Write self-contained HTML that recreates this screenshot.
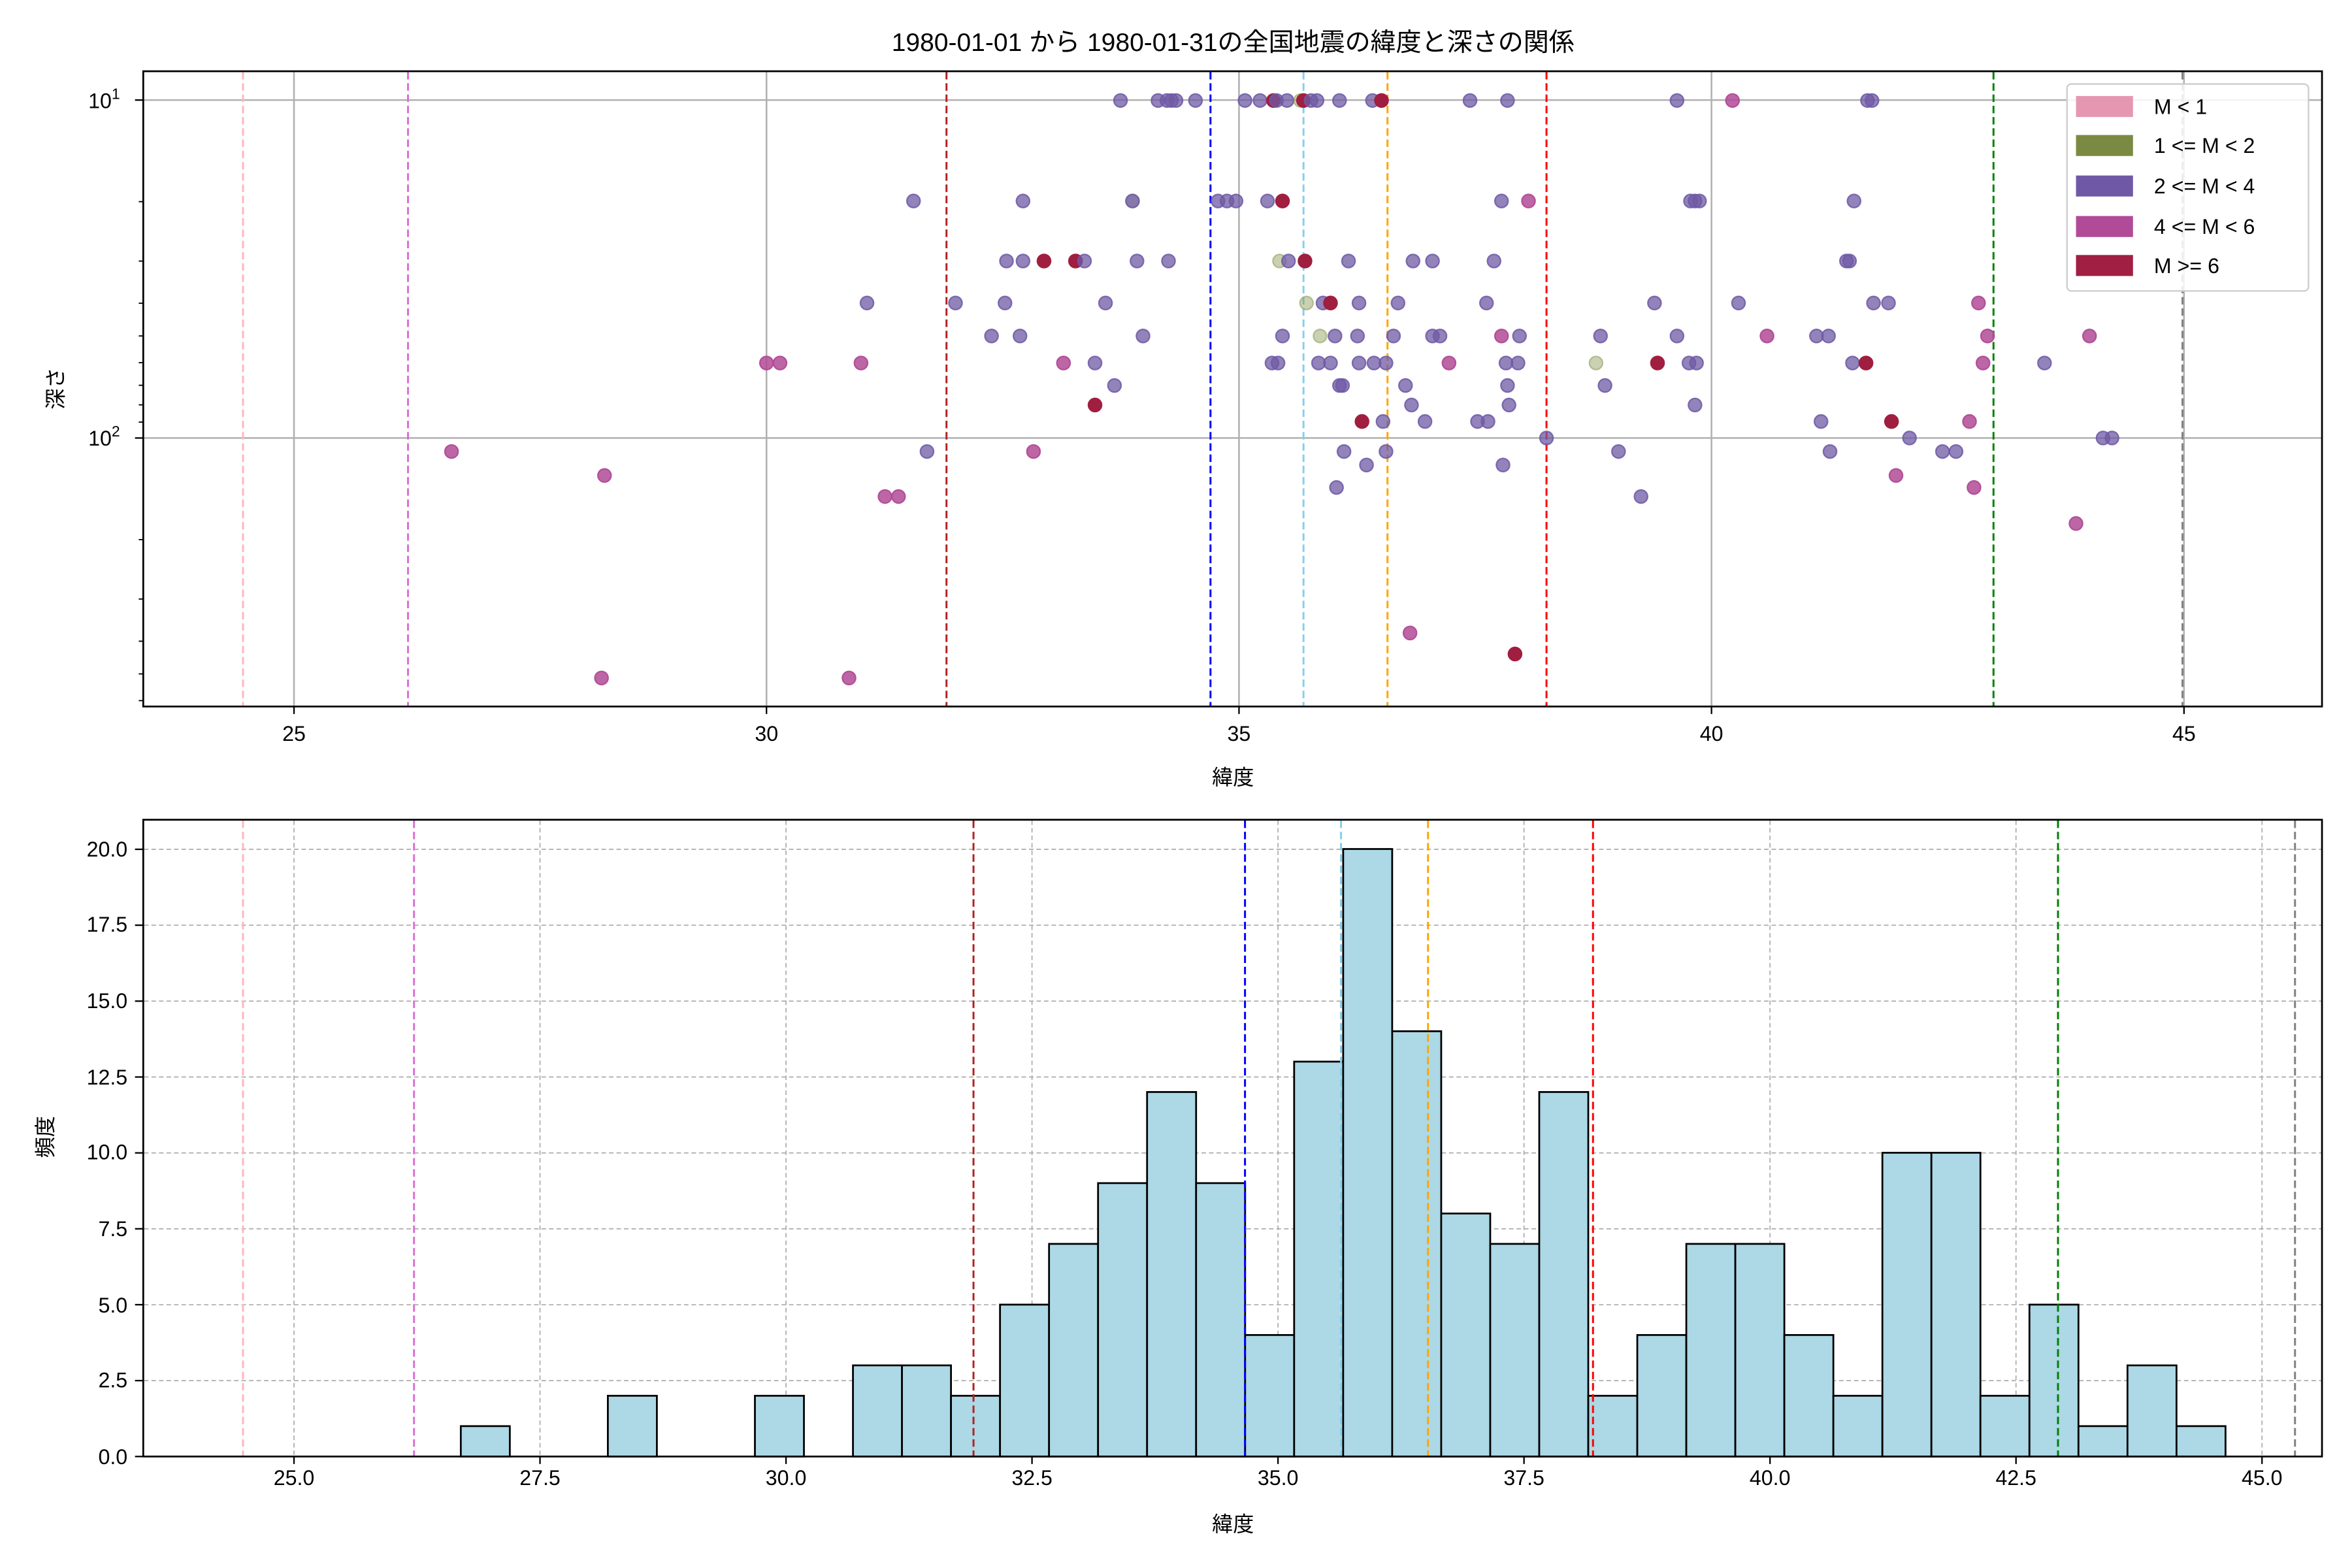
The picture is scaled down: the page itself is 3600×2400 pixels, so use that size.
<!DOCTYPE html>
<html><head><meta charset="utf-8"><style>
html,body{margin:0;padding:0;background:#fff}
svg{display:block}
text{font-family:"Liberation Sans","Noto Sans CJK JP",sans-serif;fill:#000}
</style></head><body>
<svg id="s" width="3600" height="2400" viewBox="0 0 1568 1045.33" preserveAspectRatio="none" xmlns="http://www.w3.org/2000/svg">
<rect width="1568" height="1046" fill="#fff"/>
<text x="822" y="34" font-size="17" text-anchor="middle">1980-01-01 から 1980-01-31の全国地震の緯度と深さの関係</text>
<g stroke="#b0b0b0" stroke-width="1.1">
<line x1="196" y1="47.5" x2="196" y2="471"/><line x1="511" y1="47.5" x2="511" y2="471"/><line x1="826" y1="47.5" x2="826" y2="471"/><line x1="1141" y1="47.5" x2="1141" y2="471"/><line x1="1456" y1="47.5" x2="1456" y2="471"/>
<line x1="95.5" y1="66.7" x2="1548" y2="66.7"/><line x1="95.5" y1="292" x2="1548" y2="292"/>
</g>
<g id="topv" stroke-width="1.3" stroke-dasharray="5,2.5"></g>
<g id="pts"></g>
<rect x="95.5" y="47.5" width="1452.5" height="423.5" fill="none" stroke="#000" stroke-width="1.2"/>
<g stroke="#000" stroke-width="1">
<line x1="196" y1="471" x2="196" y2="476"/><line x1="511" y1="471" x2="511" y2="476"/><line x1="826" y1="471" x2="826" y2="476"/><line x1="1141" y1="471" x2="1141" y2="476"/><line x1="1456" y1="471" x2="1456" y2="476"/>
<line x1="90" y1="66.7" x2="95.5" y2="66.7"/><line x1="90" y1="292" x2="95.5" y2="292"/>
</g>
<g id="minor" stroke="#000" stroke-width="0.8"></g>
<g font-size="14" text-anchor="middle">
<text x="196" y="494">25</text><text x="511" y="494">30</text><text x="826" y="494">35</text><text x="1141" y="494">40</text><text x="1456" y="494">45</text>
<text x="822" y="523">緯度</text>
</g>
<g font-size="14" text-anchor="end">
<text x="80" y="72">10<tspan font-size="10" dy="-6">1</tspan></text>
<text x="80" y="297">10<tspan font-size="10" dy="-6">2</tspan></text>
</g>
<text x="0" y="0" font-size="14" text-anchor="middle" transform="translate(42,259) rotate(-90)">深さ</text>
<rect x="1378" y="56" width="161" height="138" rx="3" fill="#fff" fill-opacity="0.85" stroke="#ccc" stroke-width="1"/>
<rect x="1384" y="64" width="38" height="14" fill="#e597b2"/>
<rect x="1384" y="90" width="38" height="14" fill="#7b8a42"/>
<rect x="1384" y="117" width="38" height="14" fill="#6f59a4"/>
<rect x="1384" y="144" width="38" height="14" fill="#b14b97"/>
<rect x="1384" y="170" width="38" height="14" fill="#a01f42"/>
<g font-size="14">
<text x="1436" y="76">M &lt; 1</text>
<text x="1436" y="102">1 &lt;= M &lt; 2</text>
<text x="1436" y="129">2 &lt;= M &lt; 4</text>
<text x="1436" y="156">4 &lt;= M &lt; 6</text>
<text x="1436" y="182">M &gt;= 6</text>
</g>
<g id="bgrid" stroke="#b0b0b0" stroke-width="0.8" stroke-dasharray="3,2"></g>
<g id="bars"></g>
<g id="botv" stroke-width="1.3" stroke-dasharray="5,2.5"></g>
<rect x="95.5" y="546.5" width="1452.5" height="424.5" fill="none" stroke="#000" stroke-width="1.2"/>
<g id="bticks" stroke="#000" stroke-width="1"></g>
<g font-size="14" text-anchor="middle">
<text x="196" y="990">25.0</text><text x="360" y="990">27.5</text><text x="524" y="990">30.0</text><text x="688" y="990">32.5</text><text x="852" y="990">35.0</text><text x="1016" y="990">37.5</text><text x="1180" y="990">40.0</text><text x="1344" y="990">42.5</text><text x="1508" y="990">45.0</text>
<text x="822" y="1021">緯度</text>
</g>
<g font-size="14" text-anchor="end">
<text x="85" y="976">0.0</text><text x="85" y="925">2.5</text><text x="85" y="875">5.0</text><text x="85" y="824">7.5</text><text x="85" y="773">10.0</text><text x="85" y="723">12.5</text><text x="85" y="672">15.0</text><text x="85" y="621">17.5</text><text x="85" y="571">20.0</text>
</g>
<text x="0" y="0" font-size="14" text-anchor="middle" transform="translate(35,758) rotate(-90)">頻度</text>
</svg>
<script>
var NS="http://www.w3.org/2000/svg";
function el(p,t,a){var e=document.createElementNS(NS,t);for(var k in a)e.setAttribute(k,a[k]);document.getElementById(p).appendChild(e);return e;}
var cols=["#ffb6c1","#da70d6","#b22222","#0000ff","#87ceeb","#ffa500","#ff0000","#008000","#808080"];
var tx=[162,272,631,807,869,925,1031,1329,1455], bx=[162,276,649,830,894,952,1062,1372,1530];
for(var i=0;i<9;i++){el("topv","line",{x1:tx[i],x2:tx[i],y1:48,y2:471,stroke:cols[i]});el("botv","line",{x1:bx[i],x2:bx[i],y1:547,y2:971,stroke:cols[i]});}
for(var d=2;d<10;d++){var y=66.7-225*(Math.log10(d)-0);if(y>48)el("minor","line",{x1:92.5,x2:95.5,y1:y,y2:y});var y2=66.7+225*Math.log10(d);el("minor","line",{x1:92.5,x2:95.5,y1:y2,y2:y2});var y3=292+225*Math.log10(d);if(y3<471)el("minor","line",{x1:92.5,x2:95.5,y1:y3,y2:y3});}
for(var i=0;i<9;i++){var x=196+164*i;el("bgrid","line",{x1:x,x2:x,y1:547,y2:971});el("bticks","line",{x1:x,x2:x,y1:971,y2:976});var y=971-50.6*i;el("bgrid","line",{x1:96,x2:1548,y1:y,y2:y});el("bticks","line",{x1:90,x2:95.5,y1:y,y2:y});}
var w=32.68,x0=307.2,H={0:1,3:2,6:2};var hs=[3,3,2,5,7,9,12,9,4,13,20,14,8,7,12,2,4,7,7,4,2,10,10,2,5,1,3,1];
for(var i=0;i<hs.length;i++)H[8+i]=hs[i];
for(var k in H){var h=H[k]*20.25;el("bars","rect",{x:x0+w*k,y:971-h,width:w,height:h,fill:"#add8e6",stroke:"#000","stroke-width":1.2});}
var C={P:["#6f59a4",0.75],M:["#b14b97",0.85],R:["#a01e3f",1],G:["#8a9a55",0.45]};
var pts=[
[747,67,"P"],[772,67,"P"],[778,67,"P"],[781,67,"P"],[784,67,"P"],[797,67,"P"],[830,67,"P"],[840,67,"P"],[849,67,"R"],[851,67,"P"],[858,67,"P"],[867,67,"G"],[869,67,"R"],[874,67,"P"],[878,67,"P"],[893,67,"P"],[915,67,"P"],[921,67,"R"],[980,67,"P"],[1005,67,"P"],[1118,67,"P"],[1155,67,"M"],[1245,67,"P"],[1248,67,"P"],
[609,134,"P"],[682,134,"P"],[755,134,"G"],[755,134,"P"],[812,134,"P"],[818,134,"P"],[824,134,"P"],[845,134,"P"],[855,134,"R"],[1001,134,"P"],[1019,134,"M"],[1127,134,"P"],[1130,134,"P"],[1133,134,"P"],[1236,134,"P"],
[671,174,"P"],[682,174,"P"],[696,174,"R"],[717,174,"R"],[723,174,"P"],[758,174,"P"],[779,174,"P"],[853,174,"G"],[859,174,"P"],[870,174,"R"],[899,174,"P"],[942,174,"P"],[955,174,"P"],[996,174,"P"],[1231,174,"P"],[1233,174,"P"],
[578,202,"P"],[637,202,"P"],[670,202,"P"],[737,202,"P"],[871,202,"G"],[882,202,"P"],[887,202,"R"],[906,202,"P"],[932,202,"P"],[991,202,"P"],[1103,202,"P"],[1159,202,"P"],[1249,202,"P"],[1259,202,"P"],[1319,202,"M"],
[661,224,"P"],[680,224,"P"],[762,224,"P"],[855,224,"P"],[880,224,"G"],[890,224,"P"],[905,224,"P"],[929,224,"P"],[955,224,"P"],[960,224,"P"],[1001,224,"M"],[1013,224,"P"],[1067,224,"P"],[1118,224,"P"],[1178,224,"M"],[1211,224,"P"],[1219,224,"P"],[1325,224,"M"],[1393,224,"M"],
[511,242,"M"],[520,242,"M"],[574,242,"M"],[709,242,"M"],[730,242,"P"],[848,242,"P"],[852,242,"P"],[879,242,"P"],[887,242,"P"],[906,242,"P"],[916,242,"P"],[924,242,"P"],[966,242,"M"],[1004,242,"P"],[1012,242,"P"],[1064,242,"G"],[1105,242,"R"],[1126,242,"P"],[1131,242,"P"],[1235,242,"P"],[1244,242,"R"],[1322,242,"M"],[1363,242,"P"],
[743,257,"P"],[893,257,"P"],[895,257,"P"],[937,257,"P"],[1005,257,"P"],[1070,257,"P"],
[730,270,"R"],[941,270,"P"],[1006,270,"P"],[1130,270,"P"],
[908,281,"R"],[922,281,"P"],[950,281,"P"],[985,281,"P"],[992,281,"P"],[1214,281,"P"],[1261,281,"R"],[1313,281,"M"],
[1031,292,"P"],[1273,292,"P"],[1402,292,"P"],[1408,292,"P"],
[301,301,"M"],[618,301,"P"],[689,301,"M"],[896,301,"P"],[924,301,"P"],[1079,301,"P"],[1220,301,"P"],[1295,301,"P"],[1304,301,"P"],
[911,310,"P"],[1002,310,"P"],[403,317,"M"],[1264,317,"M"],[891,325,"P"],[1316,325,"M"],
[590,331,"M"],[599,331,"M"],[1094,331,"P"],[1384,349,"M"],
[940,422,"M"],[1010,436,"R"],[401,452,"M"],[566,452,"M"]];
pts.forEach(function(p){var c=C[p[2]];el("pts","circle",{cx:p[0],cy:p[1],r:4.4,fill:c[0],stroke:c[0],"stroke-width":1,"fill-opacity":c[1],"stroke-opacity":Math.min(1,c[1]+0.1)});});
</script>
</body></html>
